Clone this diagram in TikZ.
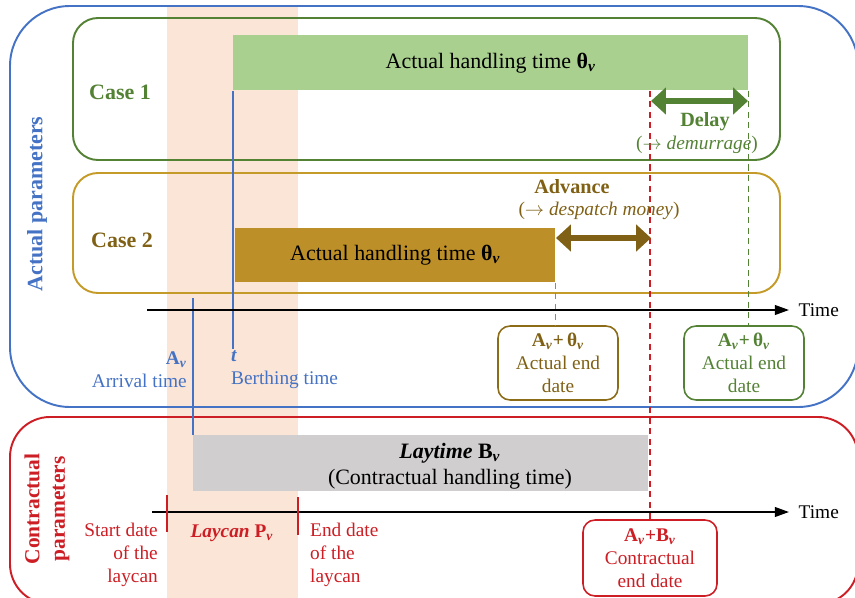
\documentclass[tikz,border=0pt]{standalone}
\usepackage{fontspec}
\setmainfont{Liberation Serif}
\usetikzlibrary{arrows.meta}
\definecolor{blau}{RGB}{68,114,196}
\definecolor{gruen}{RGB}{84,130,53}
\definecolor{hellgruen}{RGB}{169,208,142}
\definecolor{gold}{RGB}{196,154,40}
\definecolor{dunkelgold}{RGB}{127,96,20}
\definecolor{balkengold}{RGB}{189,143,40}
\definecolor{rot}{RGB}{204,30,36}
\definecolor{grau}{RGB}{208,206,206}
\definecolor{pfirsich}{RGB}{251,229,214}
\newcommand{\vsub}{\textsubscript{\textbf{\textit{v}}}}
\tikzset{
  frame/.style={line width=1.1pt},
  bar/.style={anchor=north west, inner sep=0pt},
  bartext/.style={font=\fontsize{12.5}{15}\selectfont},
  endbox/.style={draw, line width=0.9pt, rounded corners=0.24cm, align=center,
    minimum width=2.4cm, minimum height=1.48cm, inner sep=1pt},
  axis/.style={line width=1pt, -{Triangle[length=8pt,width=5.5pt]}},
  bigarrow/.style={line width=3.6pt, {Triangle[length=8.5pt,width=15pt]}-{Triangle[length=8.5pt,width=15pt]}},
  tick/.style={rot, line width=0.9pt},
  enddash/.style={dash pattern=on 3.5pt off 2.5pt},
}

\begin{document}
\begin{tikzpicture}[x=0.02cm, y=-0.02cm, font=\fontsize{11}{13}\selectfont]
\useasboundingbox (0,0) rectangle (855,598);
% laycan band
\fill[pfirsich] (167,7) rectangle (298,598);

% frames
\draw[frame, blau, rounded corners=1.2cm] (10,6) rectangle (858,407);
\draw[frame, rot, rounded corners=0.8cm] (10,417) rectangle (858,604);
\draw[frame, gruen, rounded corners=0.5cm] (73,18) rectangle (780,160);
\draw[frame, gold, rounded corners=0.5cm] (73,173) rectangle (780,293);

\node[blau, font=\fontsize{12.5}{14}\selectfont\bfseries, rotate=90] (actual) at (37,204) {Actual parameters};
\node[rot, font=\fontsize{12.2}{14.5}\selectfont\bfseries, rotate=90, align=center] (contract) at (47,509) {Contractual\\parameters};
\node[gruen, font=\fontsize{12.5}{15}\selectfont\bfseries] (caseOne) at (120,92) {Case 1};
\node[dunkelgold, font=\fontsize{12.5}{15}\selectfont\bfseries] (caseTwo) at (122,240) {Case 2};

% bars
\node[bar, fill=hellgruen, minimum width=10.3cm, minimum height=1.1cm] (handleOne) at (233,35) {};
\node[bartext] at (handleOne.center) {Actual handling time \textbf{θ}\vsub};
\draw[blau, line width=0.8pt] (handleOne.south west) -- ++(0,258) coordinate (berth);
\node[bar, fill=balkengold, minimum width=6.4cm, minimum height=1.08cm] (handleTwo) at (235,228) {};
\node[bartext] at (handleTwo.center) {Actual handling time \textbf{θ}\vsub};
\node[bar, fill=grau, minimum width=9.1cm, minimum height=1.12cm] (laytime) at (193,435) {};
\node[bartext, align=center] at (450,466) {\textbf{\textit{Laytime} B}\vsub\\(Contractual handling time)};
\coordinate (arrive) at (193,298);
\draw[blau, line width=0.8pt] (arrive) -- (laytime.north west);

% end dates
\node[endbox, draw=dunkelgold!80!gold, text=dunkelgold] (endTwo) at (558,363) {\textbf{A\vsub+\,θ\vsub}\\Actual end\\date};
\node[endbox, draw=gruen, text=gruen] (endOne) at (744,363) {\textbf{A\vsub+\,θ\vsub}\\Actual end\\date};
\node[endbox, draw=rot, text=rot, minimum width=2.68cm, minimum height=1.52cm] (endContract) at (650,558) {\textbf{A\vsub+B\vsub}\\Contractual\\end date};

\draw[enddash, gruen, line width=0.9pt] (handleOne.south east) -- (handleOne.south east |- endOne.north);
\draw[enddash, gold!70!dunkelgold, line width=0.9pt] (handleTwo.south east) -- (handleTwo.south east |- endTwo.north);
\draw[enddash, rot, line width=1pt] (endContract.north |- handleOne.south) -- (endContract.north);

% delay and advance
\coordinate (delayL) at (651,101);
\coordinate (delayR) at (748,101);
\draw[bigarrow, gruen] (delayL) -- (delayR);
\node[gruen, font=\fontsize{11.5}{13}\selectfont\bfseries] (delay) at (705,122) {Delay};
\node[gruen] (demurrage) at (697,145) {($\rightarrow$ \textit{demurrage})};
\coordinate (advL) at (556,238);
\coordinate (advR) at (651,238);
\draw[bigarrow, dunkelgold] (advL) -- (advR);
\node[dunkelgold, font=\fontsize{11.5}{13}\selectfont\bfseries] (advance) at (572,187) {Advance};
\node[dunkelgold] (despatch) at (599,211) {($\rightarrow$ \textit{despatch money})};

% time axes
\coordinate (axOneL) at (147,310);
\coordinate (axOneR) at (789,310);
\draw[axis] (axOneL) -- (axOneR);
\node[anchor=west, xshift=2pt] (timeOne) at (axOneR) {Time};
\coordinate (axTwoL) at (152,512);
\coordinate (axTwoR) at (789,512);
\draw[axis] (axTwoL) -- (axTwoR);
\node[anchor=west, xshift=2pt] (timeTwo) at (axTwoR) {Time};

\draw[tick] (167,495) -- (167,532);
\draw[tick] (298,497) -- (298,535);

% labels
\node[blau, anchor=east, align=right] (arrival) at (193,370) {\textbf{A}\vsub\\Arrival time};
\node[blau, anchor=west, align=left] (berthing) at (225,370) {\textbf{\textit{t}}\\Berthing time};
\node[rot, anchor=east, align=right] (startLay) at (164,555) {Start date\\of the\\laycan};
\node[rot] (laycan) at (232,533) {\textbf{\textit{Laycan} P}\vsub};
\node[rot, anchor=west, align=left] (endLay) at (304,555) {End date\\of the\\laycan};
\end{tikzpicture}
\end{document}
